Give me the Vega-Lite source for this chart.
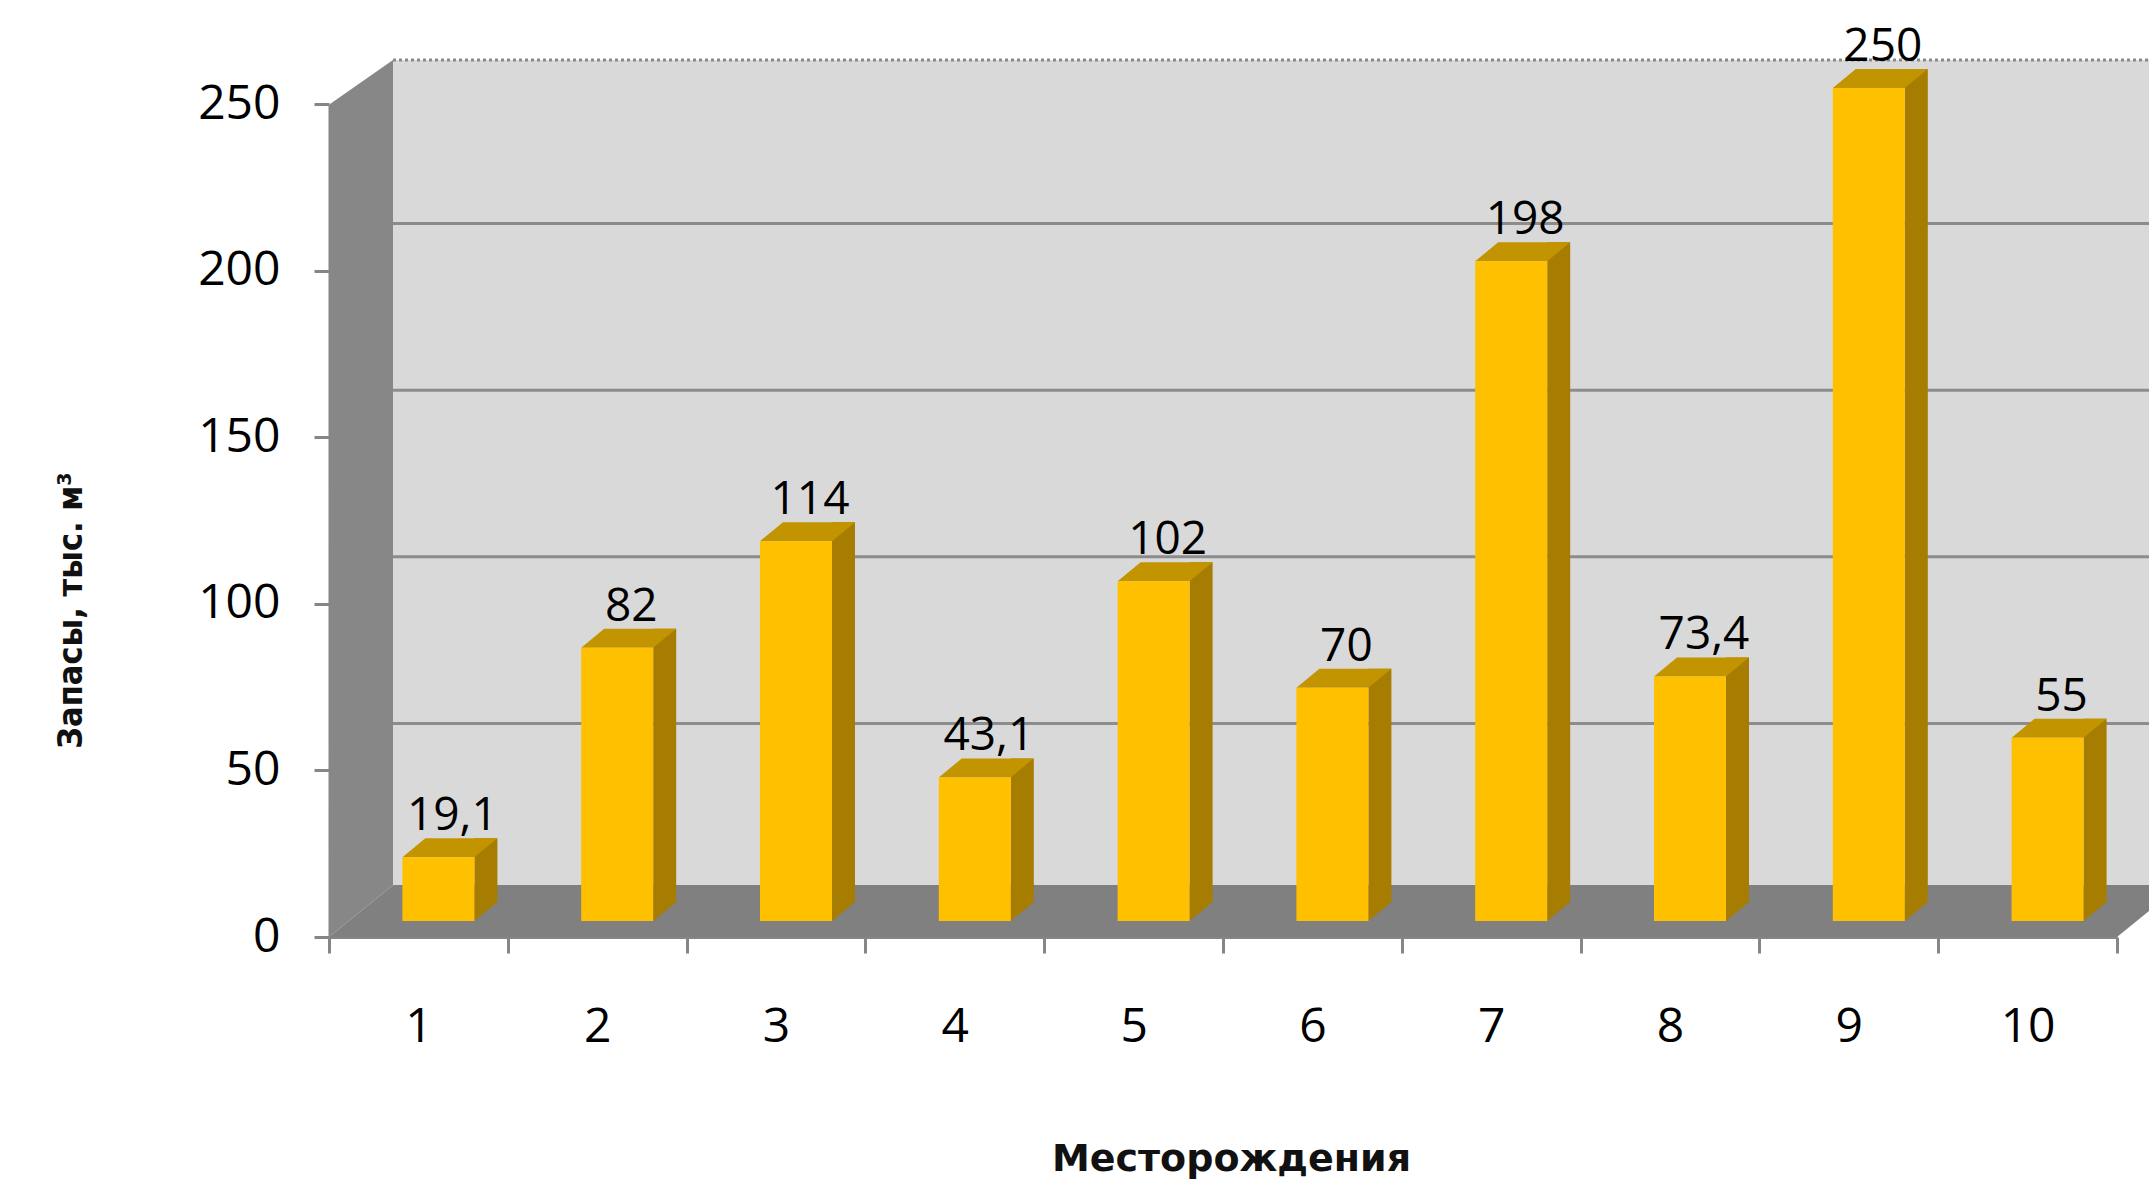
{
  "$schema": "https://vega.github.io/schema/vega-lite/v6.json",
  "autosize": "none",
  "width": 1788,
  "height": 833,
  "padding": {"left": 329, "top": 104, "right": 32, "bottom": 249},
  "background": "#ffffff",
  "config": {
    "view": {"stroke": null},
    "locale": {"number": {"decimal": ",", "thousands": " ", "grouping": [3], "currency": ["", ""]}}
  },
  "datasets": {
    "bars": [
      {"field": 1, "reserve": 19.1},
      {"field": 2, "reserve": 82},
      {"field": 3, "reserve": 114},
      {"field": 4, "reserve": 43.1},
      {"field": 5, "reserve": 102},
      {"field": 6, "reserve": 70},
      {"field": 7, "reserve": 198},
      {"field": 8, "reserve": 73.4},
      {"field": 9, "reserve": 250},
      {"field": 10, "reserve": 55}
    ],
    "gridlines": [{"g": 50}, {"g": 100}, {"g": 150}, {"g": 200}],
    "frame": [{"part": "wall"}]
  },
  "layer": [
    {
      "data": {"name": "frame"},
      "mark": {"type": "rect", "fill": "#d9d9d9", "xOffset": 64, "x2Offset": 32, "yOffset": -52, "y2Offset": -44},
      "encoding": {
        "x": {"datum": 0.5, "type": "quantitative"},
        "x2": {"datum": 10.5},
        "y": {"datum": 0, "type": "quantitative"},
        "y2": {"datum": 250}
      }
    },
    {
      "data": {"name": "gridlines"},
      "mark": {"type": "rule", "stroke": "#8c8c8c", "strokeWidth": 3, "xOffset": 64, "x2Offset": 32, "yOffset": -47},
      "encoding": {
        "x": {"datum": 0.5, "type": "quantitative"},
        "x2": {"datum": 10.5},
        "y": {"field": "g", "type": "quantitative"}
      }
    },
    {
      "data": {"name": "frame"},
      "mark": {"type": "rule", "stroke": "#8a8a8a", "strokeWidth": 3, "strokeDash": [3, 3], "xOffset": 64, "x2Offset": 32, "yOffset": -44},
      "encoding": {
        "x": {"datum": 0.5, "type": "quantitative"},
        "x2": {"datum": 10.5},
        "y": {"datum": 250, "type": "quantitative"}
      }
    },
    {
      "data": {"name": "frame"},
      "mark": {"type": "point", "shape": "M0,0L64,-52L64,-877L1,-833Z", "size": 4, "filled": true, "fill": "#878787", "opacity": 1, "strokeWidth": 0},
      "encoding": {
        "x": {"datum": 0.5, "type": "quantitative"},
        "y": {"datum": 0, "type": "quantitative"}
      }
    },
    {
      "data": {"name": "frame"},
      "mark": {"type": "point", "shape": "M0,0L64,-52L1820,-52L1820,-26L1788,0Z", "size": 4, "filled": true, "fill": "#808080", "opacity": 1, "strokeWidth": 0},
      "encoding": {
        "x": {"datum": 0.5, "type": "quantitative"},
        "y": {"datum": 0, "type": "quantitative"}
      }
    },
    {
      "data": {"name": "bars"},
      "mark": {"type": "bar", "width": 23, "xOffset": 67.5, "yOffset": -35, "y2Offset": -35, "fill": "#a67d00"},
      "encoding": {
        "x": {"field": "field", "type": "quantitative"},
        "y": {"field": "reserve", "type": "quantitative"}
      }
    },
    {
      "data": {"name": "bars"},
      "mark": {"type": "point", "shape": "M56,-35L79,-35L56,-16Z", "size": 4, "filled": true, "fill": "#a67d00", "opacity": 1, "strokeWidth": 0},
      "encoding": {
        "x": {"field": "field", "type": "quantitative"},
        "y": {"datum": 0, "type": "quantitative"}
      }
    },
    {
      "data": {"name": "bars"},
      "mark": {"type": "point", "shape": "M-16,-16L7,-35L79,-35L56,-16Z", "size": 4, "filled": true, "fill": "#c29400", "opacity": 1, "strokeWidth": 0},
      "encoding": {
        "x": {"field": "field", "type": "quantitative"},
        "y": {"field": "reserve", "type": "quantitative"}
      }
    },
    {
      "data": {"name": "bars"},
      "mark": {"type": "bar", "width": 72, "xOffset": 20, "yOffset": -16, "y2Offset": -16, "fill": "#ffc000"},
      "encoding": {
        "x": {
          "field": "field", "type": "quantitative",
          "scale": {"domain": [0.5, 10.5], "nice": false, "zero": false, "padding": 0},
          "axis": {
            "values": [0.5, 1.5, 2.5, 3.5, 4.5, 5.5, 6.5, 7.5, 8.5, 9.5, 10.5],
            "labelExpr": "datum.value > 10 ? '' : '' + (datum.value + 0.5)",
            "labelOffset": 89.4,
            "grid": false,
            "tickSize": 16, "tickWidth": 3, "tickColor": "#868686",
            "domainColor": "#868686", "domainWidth": 3,
            "labelFont": "Open Sans", "labelFontSize": 48, "labelColor": "#000000", "labelPadding": 50,
            "labelBaseline": "top", "labelFlush": false, "labelOverlap": false,
            "title": "Месторождения",
            "titleFont": "DejaVu Sans", "titleFontWeight": "bold", "titleFontSize": 38, "titleColor": "#111111",
            "titleX": 902, "titleY": 222, "titleBaseline": "middle", "titleAlign": "center"
          }
        },
        "y": {
          "field": "reserve", "type": "quantitative",
          "scale": {"domain": [0, 250], "nice": false, "zero": true},
          "axis": {
            "values": [0, 50, 100, 150, 200, 250],
            "grid": false,
            "tickSize": 15, "tickWidth": 3, "tickColor": "#868686",
            "domainColor": "#868686", "domainWidth": 2,
            "labelFont": "Open Sans", "labelFontSize": 48, "labelColor": "#000000", "labelPadding": 34,
            "labelFlush": false, "labelOverlap": false,
            "title": "Запасы, тыс. м³",
            "titleFont": "DejaVu Sans Condensed, DejaVu Sans", "titleFontWeight": "bold", "titleFontSize": 34, "titleColor": "#111111",
            "titleAngle": -90, "titleX": -258, "titleY": 506, "titleBaseline": "middle", "titleAlign": "center"
          }
        }
      }
    },
    {
      "data": {"name": "bars"},
      "mark": {"type": "text", "font": "Open Sans", "fontSize": 46, "color": "#000000", "align": "center", "baseline": "alphabetic", "dx": 34, "dy": -43},
      "encoding": {
        "x": {"field": "field", "type": "quantitative"},
        "y": {"field": "reserve", "type": "quantitative"},
        "text": {"field": "reserve", "type": "quantitative", "format": ".1~f"}
      }
    }
  ]
}
